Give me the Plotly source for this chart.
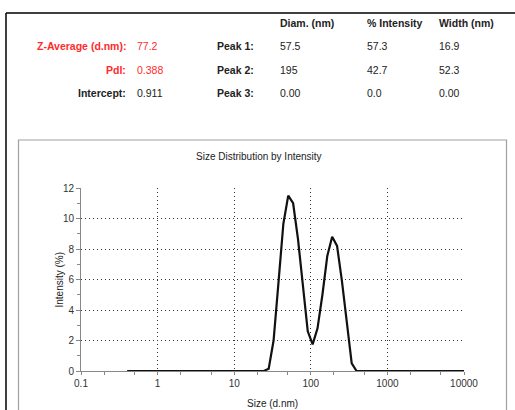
import plotly.graph_objects as go

# Size bins (d.nm) and intensity (%)
size_nm = [0.4, 0.4632, 0.5365, 0.6213, 0.7195, 0.8332, 0.9649, 1.117, 1.294, 1.499,
           1.736, 2.010, 2.328, 2.696, 3.122, 3.615, 4.187, 4.849, 5.615, 6.503,
           7.531, 8.721, 10.10, 11.70, 13.54, 15.69, 18.17, 21.04, 24.36, 28.21,
           32.67, 37.84, 43.82, 50.75, 58.77, 68.06, 78.82, 91.28, 105.7, 122.4,
           141.8, 164.2, 190.1, 220.2, 255.0, 295.3, 342.0, 396.1, 458.7, 531.2,
           615.1, 712.4, 825.0, 955.4, 1106, 1281, 1484, 1718, 1990, 2305,
           2669, 3091, 3580, 4145, 4801, 5560, 6439, 7456, 8635, 10000]
intensity = [0] * 29 + [0.15, 2.0, 5.8, 9.65, 11.5, 11.0, 8.65, 5.6, 2.6, 1.75, 2.8,
                        5.0, 7.55, 8.8, 8.2, 5.9, 3.0, 0.5] + [0] * 23

x_tick_vals = [0.1, 1, 10, 100, 1000, 10000]
x_tick_text = ["0.1", "1", "10", "100", "1000", "10000"]
y_tick_vals = [0, 2, 4, 6, 8, 10, 12]

# Results table
left_labels = ["Z-Average (d.nm):", "PdI:", "Intercept:"]
left_values = ["77.2", "0.388", "0.911"]
left_colors = ["#ff2b2b", "#ff2b2b", "#222222"]
peak_labels = ["Peak 1:", "Peak 2:", "Peak 3:"]
col_headers = ["Diam. (nm)", "% Intensity", "Width (nm)"]
peak_diam = ["57.5", "195", "0.00"]
peak_int = ["57.3", "42.7", "0.0"]
peak_width = ["16.9", "52.3", "0.00"]

W, H = 515, 410
PL, PR, PT, PB = 81, 464, 188, 371  # plot area in pixels


def px(x):
    return (x - PL) / (PR - PL)


def py(y):
    return (PB - y) / (PB - PT)


FONT = "Liberation Sans Narrow, Arial Narrow, Liberation Sans, Arial, sans-serif"
TS = 10.5

fig = go.Figure()
fig.add_trace(go.Scatter(x=size_nm, y=intensity, mode="lines",
                         line=dict(color="#111111", width=2.2), showlegend=False,
                         hoverinfo="skip"))

annotations = []


def txt(text, x, y, anchor, color="#222222", size=TS, bold=False):
    t = f"<b>{text}</b>" if bold else text
    annotations.append(dict(text=t, x=px(x), y=py(y), xref="paper", yref="paper",
                            xanchor=anchor, yanchor="middle", showarrow=False,
                            font=dict(family=FONT, size=size, color=color)))


col_x = [278, 365, 437]
for h, cx in zip(col_headers, col_x):
    txt(h, cx, 23, "left", bold=True)
row_y = [46, 70, 93]
for i, ry in enumerate(row_y):
    txt(left_labels[i], 128, ry, "right", color=left_colors[i], bold=True)
    txt(left_values[i], 135, ry, "left", color=left_colors[i])
    txt(peak_labels[i], 256, ry, "right", bold=True)
    txt(peak_diam[i], col_x[0], ry, "left")
    txt(peak_int[i], col_x[1], ry, "left")
    txt(peak_width[i], col_x[2], ry, "left")

txt("Size Distribution by Intensity", 259, 156, "center", size=10)
txt("Size (d.nm)", 272.5, 403, "center", size=10)
annotations.append(dict(text="Intensity (%)", x=px(59), y=py(279.5), xref="paper", yref="paper",
                        xanchor="center", yanchor="middle", showarrow=False, textangle=-90,
                        font=dict(family=FONT, size=10, color="#222222")))

shapes = [
    # outer black frame
    dict(type="line", xref="paper", yref="paper", x0=px(6), x1=px(516), y0=py(13), y1=py(13),
         line=dict(color="#000000", width=1.5)),
    dict(type="line", xref="paper", yref="paper", x0=px(6), x1=px(6), y0=py(13), y1=py(411),
         line=dict(color="#000000", width=1.5)),
    # inner grey chart frame
    dict(type="rect", xref="paper", yref="paper", x0=px(18.5), x1=px(506.5), y0=py(140), y1=py(420),
         line=dict(color="#a0a0a0", width=1.2)),
]

fig.update_layout(
    width=W, height=H,
    margin=dict(l=PL, r=W - PR, t=PT, b=H - PB, pad=0),
    paper_bgcolor="white", plot_bgcolor="white",
    annotations=annotations, shapes=shapes,
    font=dict(family=FONT, size=10, color="#333333"),
    xaxis=dict(type="log", range=[-1, 4], tickvals=x_tick_vals, ticktext=x_tick_text,
               showline=True, linecolor="#888888", linewidth=1,
               showgrid=True, gridcolor="#333333", griddash="1px,3px", gridwidth=1.2,
               ticks="outside", ticklen=3, tickcolor="#888888",
               minor=dict(ticks="outside", ticklen=3, tickcolor="#888888", showgrid=False),
               zeroline=False, tickfont=dict(size=10, color="#333333")),
    yaxis=dict(range=[0, 12], tickvals=y_tick_vals,
               showline=True, linecolor="#888888", linewidth=1,
               showgrid=True, gridcolor="#333333", griddash="1px,3px", gridwidth=1.2,
               ticks="outside", ticklen=4, tickcolor="#888888",
               minor=dict(dtick=1, ticks="outside", ticklen=3, tickcolor="#888888", showgrid=False),
               zeroline=False, tickfont=dict(size=10, color="#333333")),
)

fig.write_html("out.html", config={"displayModeBar": False},
               post_script="document.body.style.margin='0px';document.body.style.overflow='hidden';")
